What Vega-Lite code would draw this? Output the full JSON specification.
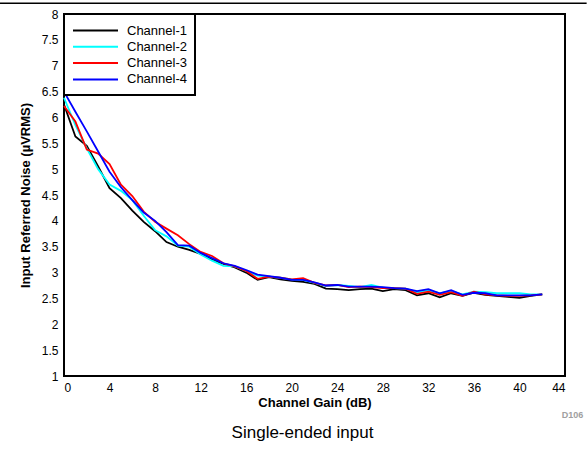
{
  "$schema": "https://vega.github.io/schema/vega-lite/v6.json",
  "autosize": {"type": "none"},
  "padding": {"left": 64, "top": 14, "right": 22, "bottom": 73},
  "width": 501,
  "height": 362,
  "background": "white",
  "config": {
    "font": "Liberation Sans",
    "view": {"stroke": "black", "strokeWidth": 2},
    "axis": {"gridColor": "#c8c8c8", "gridWidth": 1.5, "gridOpacity": 1, "domain": false, "ticks": false, "labelFontSize": 12, "labelColor": "black", "titleColor": "black", "labelPadding": 6, "labelOverlap": false}
  },
  "title": {"text": "Single-ended input", "orient": "bottom", "fontSize": 17, "fontWeight": "normal", "color": "black", "offset": 5, "dx": -12, "font": "Liberation Sans"},
  "datasets": {
    "noise": [
      {"gain":0,"ch":"Channel-1","v":6.25},{"gain":1,"ch":"Channel-1","v":5.63},{"gain":2,"ch":"Channel-1","v":5.45},{"gain":3,"ch":"Channel-1","v":5.05},{"gain":4,"ch":"Channel-1","v":4.63},{"gain":5,"ch":"Channel-1","v":4.44},{"gain":6,"ch":"Channel-1","v":4.2},{"gain":7,"ch":"Channel-1","v":3.98},{"gain":8,"ch":"Channel-1","v":3.8},{"gain":9,"ch":"Channel-1","v":3.59},{"gain":10,"ch":"Channel-1","v":3.5},{"gain":11,"ch":"Channel-1","v":3.44},{"gain":12,"ch":"Channel-1","v":3.36},{"gain":13,"ch":"Channel-1","v":3.25},{"gain":14,"ch":"Channel-1","v":3.17},{"gain":15,"ch":"Channel-1","v":3.1},{"gain":16,"ch":"Channel-1","v":3.0},{"gain":17,"ch":"Channel-1","v":2.86},{"gain":18,"ch":"Channel-1","v":2.91},{"gain":19,"ch":"Channel-1","v":2.87},{"gain":20,"ch":"Channel-1","v":2.84},{"gain":21,"ch":"Channel-1","v":2.82},{"gain":22,"ch":"Channel-1","v":2.78},{"gain":23,"ch":"Channel-1","v":2.69},{"gain":24,"ch":"Channel-1","v":2.68},{"gain":25,"ch":"Channel-1","v":2.66},{"gain":26,"ch":"Channel-1","v":2.68},{"gain":27,"ch":"Channel-1","v":2.69},{"gain":28,"ch":"Channel-1","v":2.64},{"gain":29,"ch":"Channel-1","v":2.68},{"gain":30,"ch":"Channel-1","v":2.66},{"gain":31,"ch":"Channel-1","v":2.56},{"gain":32,"ch":"Channel-1","v":2.6},{"gain":33,"ch":"Channel-1","v":2.52},{"gain":34,"ch":"Channel-1","v":2.6},{"gain":35,"ch":"Channel-1","v":2.55},{"gain":36,"ch":"Channel-1","v":2.61},{"gain":37,"ch":"Channel-1","v":2.57},{"gain":38,"ch":"Channel-1","v":2.55},{"gain":39,"ch":"Channel-1","v":2.53},{"gain":40,"ch":"Channel-1","v":2.51},{"gain":41,"ch":"Channel-1","v":2.55},{"gain":42,"ch":"Channel-1","v":2.58},
      {"gain":0,"ch":"Channel-2","v":6.38},{"gain":1,"ch":"Channel-2","v":5.85},{"gain":2,"ch":"Channel-2","v":5.4},{"gain":3,"ch":"Channel-2","v":5.0},{"gain":4,"ch":"Channel-2","v":4.7},{"gain":5,"ch":"Channel-2","v":4.58},{"gain":6,"ch":"Channel-2","v":4.4},{"gain":7,"ch":"Channel-2","v":4.1},{"gain":8,"ch":"Channel-2","v":3.82},{"gain":9,"ch":"Channel-2","v":3.7},{"gain":10,"ch":"Channel-2","v":3.52},{"gain":11,"ch":"Channel-2","v":3.5},{"gain":12,"ch":"Channel-2","v":3.35},{"gain":13,"ch":"Channel-2","v":3.23},{"gain":14,"ch":"Channel-2","v":3.13},{"gain":15,"ch":"Channel-2","v":3.12},{"gain":16,"ch":"Channel-2","v":3.03},{"gain":17,"ch":"Channel-2","v":2.94},{"gain":18,"ch":"Channel-2","v":2.92},{"gain":19,"ch":"Channel-2","v":2.9},{"gain":20,"ch":"Channel-2","v":2.87},{"gain":21,"ch":"Channel-2","v":2.86},{"gain":22,"ch":"Channel-2","v":2.8},{"gain":23,"ch":"Channel-2","v":2.74},{"gain":24,"ch":"Channel-2","v":2.76},{"gain":25,"ch":"Channel-2","v":2.74},{"gain":26,"ch":"Channel-2","v":2.72},{"gain":27,"ch":"Channel-2","v":2.76},{"gain":28,"ch":"Channel-2","v":2.71},{"gain":29,"ch":"Channel-2","v":2.7},{"gain":30,"ch":"Channel-2","v":2.69},{"gain":31,"ch":"Channel-2","v":2.62},{"gain":32,"ch":"Channel-2","v":2.66},{"gain":33,"ch":"Channel-2","v":2.6},{"gain":34,"ch":"Channel-2","v":2.64},{"gain":35,"ch":"Channel-2","v":2.58},{"gain":36,"ch":"Channel-2","v":2.63},{"gain":37,"ch":"Channel-2","v":2.62},{"gain":38,"ch":"Channel-2","v":2.6},{"gain":39,"ch":"Channel-2","v":2.6},{"gain":40,"ch":"Channel-2","v":2.6},{"gain":41,"ch":"Channel-2","v":2.58},{"gain":42,"ch":"Channel-2","v":2.58},
      {"gain":0,"ch":"Channel-3","v":6.22},{"gain":1,"ch":"Channel-3","v":5.92},{"gain":2,"ch":"Channel-3","v":5.38},{"gain":3,"ch":"Channel-3","v":5.3},{"gain":4,"ch":"Channel-3","v":5.1},{"gain":5,"ch":"Channel-3","v":4.7},{"gain":6,"ch":"Channel-3","v":4.48},{"gain":7,"ch":"Channel-3","v":4.18},{"gain":8,"ch":"Channel-3","v":3.98},{"gain":9,"ch":"Channel-3","v":3.85},{"gain":10,"ch":"Channel-3","v":3.72},{"gain":11,"ch":"Channel-3","v":3.55},{"gain":12,"ch":"Channel-3","v":3.4},{"gain":13,"ch":"Channel-3","v":3.32},{"gain":14,"ch":"Channel-3","v":3.18},{"gain":15,"ch":"Channel-3","v":3.12},{"gain":16,"ch":"Channel-3","v":3.03},{"gain":17,"ch":"Channel-3","v":2.88},{"gain":18,"ch":"Channel-3","v":2.92},{"gain":19,"ch":"Channel-3","v":2.9},{"gain":20,"ch":"Channel-3","v":2.87},{"gain":21,"ch":"Channel-3","v":2.89},{"gain":22,"ch":"Channel-3","v":2.8},{"gain":23,"ch":"Channel-3","v":2.75},{"gain":24,"ch":"Channel-3","v":2.76},{"gain":25,"ch":"Channel-3","v":2.72},{"gain":26,"ch":"Channel-3","v":2.73},{"gain":27,"ch":"Channel-3","v":2.72},{"gain":28,"ch":"Channel-3","v":2.7},{"gain":29,"ch":"Channel-3","v":2.7},{"gain":30,"ch":"Channel-3","v":2.69},{"gain":31,"ch":"Channel-3","v":2.59},{"gain":32,"ch":"Channel-3","v":2.63},{"gain":33,"ch":"Channel-3","v":2.57},{"gain":34,"ch":"Channel-3","v":2.62},{"gain":35,"ch":"Channel-3","v":2.55},{"gain":36,"ch":"Channel-3","v":2.63},{"gain":37,"ch":"Channel-3","v":2.58},{"gain":38,"ch":"Channel-3","v":2.56},{"gain":39,"ch":"Channel-3","v":2.55},{"gain":40,"ch":"Channel-3","v":2.55},{"gain":41,"ch":"Channel-3","v":2.56},{"gain":42,"ch":"Channel-3","v":2.58},
      {"gain":0,"ch":"Channel-4","v":6.5},{"gain":1,"ch":"Channel-4","v":6.11},{"gain":2,"ch":"Channel-4","v":5.73},{"gain":3,"ch":"Channel-4","v":5.34},{"gain":4,"ch":"Channel-4","v":4.95},{"gain":5,"ch":"Channel-4","v":4.65},{"gain":6,"ch":"Channel-4","v":4.4},{"gain":7,"ch":"Channel-4","v":4.16},{"gain":8,"ch":"Channel-4","v":4.0},{"gain":9,"ch":"Channel-4","v":3.78},{"gain":10,"ch":"Channel-4","v":3.53},{"gain":11,"ch":"Channel-4","v":3.52},{"gain":12,"ch":"Channel-4","v":3.38},{"gain":13,"ch":"Channel-4","v":3.28},{"gain":14,"ch":"Channel-4","v":3.18},{"gain":15,"ch":"Channel-4","v":3.13},{"gain":16,"ch":"Channel-4","v":3.05},{"gain":17,"ch":"Channel-4","v":2.96},{"gain":18,"ch":"Channel-4","v":2.93},{"gain":19,"ch":"Channel-4","v":2.9},{"gain":20,"ch":"Channel-4","v":2.86},{"gain":21,"ch":"Channel-4","v":2.86},{"gain":22,"ch":"Channel-4","v":2.81},{"gain":23,"ch":"Channel-4","v":2.75},{"gain":24,"ch":"Channel-4","v":2.76},{"gain":25,"ch":"Channel-4","v":2.73},{"gain":26,"ch":"Channel-4","v":2.73},{"gain":27,"ch":"Channel-4","v":2.73},{"gain":28,"ch":"Channel-4","v":2.72},{"gain":29,"ch":"Channel-4","v":2.7},{"gain":30,"ch":"Channel-4","v":2.69},{"gain":31,"ch":"Channel-4","v":2.64},{"gain":32,"ch":"Channel-4","v":2.68},{"gain":33,"ch":"Channel-4","v":2.6},{"gain":34,"ch":"Channel-4","v":2.66},{"gain":35,"ch":"Channel-4","v":2.57},{"gain":36,"ch":"Channel-4","v":2.61},{"gain":37,"ch":"Channel-4","v":2.6},{"gain":38,"ch":"Channel-4","v":2.56},{"gain":39,"ch":"Channel-4","v":2.56},{"gain":40,"ch":"Channel-4","v":2.56},{"gain":41,"ch":"Channel-4","v":2.56},{"gain":42,"ch":"Channel-4","v":2.58}
    ],
    "note": [{"label": "D106"}]
  },
  "encoding": {
    "x": {"type": "quantitative", "scale": {"domain": [0, 44], "nice": false}, "axis": {"values": [0,4,8,12,16,20,24,28,32,36,40,44], "title": "Channel Gain (dB)", "titleFontSize": 13, "titleFontWeight": "bold", "titlePadding": 3}},
    "y": {"type": "quantitative", "scale": {"domain": [1, 8], "nice": false, "zero": false}, "axis": {"values": [1,1.5,2,2.5,3,3.5,4,4.5,5,5.5,6,6.5,7,7.5,8], "format": "~g", "title": "Input Referred Noise (µVRMS)", "titleFontSize": 13, "titleFontWeight": "bold", "titlePadding": 9}}
  },
  "layer": [
    {
      "data": {"name": "note"},
      "mark": {"type": "rule", "color": "black", "strokeWidth": 1.5},
      "encoding": {
        "x": {"datum": -5.62},
        "x2": {"datum": 45.9},
        "y": {"datum": 8.21}
      }
    },
    {
      "data": {"name": "noise"},
      "mark": {"type": "line", "strokeWidth": 1.8},
      "encoding": {
        "x": {"field": "gain", "type": "quantitative"},
        "y": {"field": "v", "type": "quantitative"},
        "color": {"field": "ch", "type": "nominal", "scale": {"domain": ["Channel-1","Channel-2","Channel-3","Channel-4"], "range": ["#000000","#00ffff","#ff0000","#0000ff"]},
          "legend": {"title": null, "orient": "top-left", "offset": 0, "strokeColor": "black", "fillColor": "white", "padding": 8, "symbolType": "M-1,0H5", "symbolSize": 225, "symbolStrokeWidth": 2, "labelOffset": 38, "labelFontSize": 13, "labelColor": "black", "rowPadding": 0.3, "cornerRadius": 0, "encode": {"legend": {"update": {"strokeWidth": {"value": 2}}}}}}
      }
    },
    {
      "data": {"name": "note"},
      "mark": {"type": "text", "fontSize": 9, "fontWeight": "bold", "color": "#a0a0a0", "align": "right"},
      "encoding": {
        "text": {"field": "label"},
        "x": {"datum": 45.6},
        "y": {"datum": 0.25}
      }
    }
  ]
}
